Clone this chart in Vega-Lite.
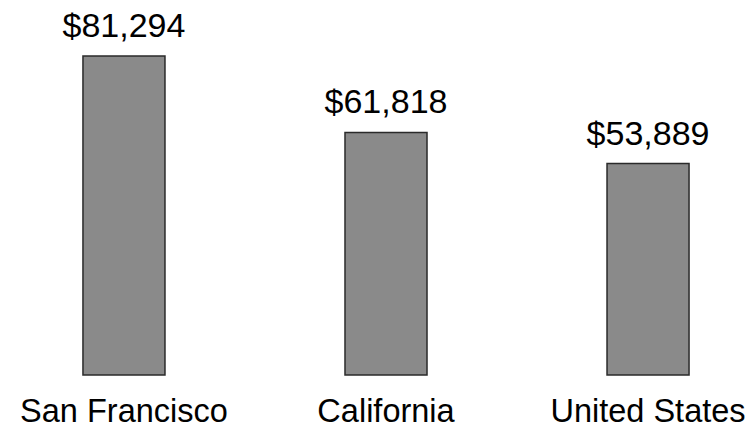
{
  "$schema": "https://vega.github.io/schema/vega-lite/v6.json",
  "width": 724,
  "height": 375,
  "autosize": "none",
  "padding": {"left": 24, "top": 0, "right": 0, "bottom": 55},
  "background": "white",
  "config": {
    "view": {"stroke": null},
    "font": "Liberation Sans"
  },
  "data": {
    "values": [
      {"place": "San Francisco", "income": 81294, "label": "$81,294"},
      {"place": "California", "income": 61818, "label": "$61,818"},
      {"place": "United States", "income": 53889, "label": "$53,889"}
    ]
  },
  "encoding": {
    "x": {
      "field": "place",
      "type": "nominal",
      "sort": null,
      "scale": {"paddingInner": 0.687, "paddingOuter": 0.225},
      "axis": {
        "title": null,
        "labelAngle": 0,
        "ticks": false,
        "domain": false,
        "labelFont": "Liberation Sans",
        "labelFontSize": 32.5,
        "labelColor": "#000000",
        "labelBaseline": "alphabetic",
        "labelPadding": 46,
        "labelOverlap": false,
        "labelLimit": 0
      }
    },
    "y": {
      "field": "income",
      "type": "quantitative",
      "scale": {"domain": [0, 95566], "nice": false},
      "axis": null
    }
  },
  "layer": [
    {
      "mark": {"type": "bar", "fill": "#8a8a8a", "stroke": "#2a2a2a", "strokeWidth": 1.5}
    },
    {
      "mark": {"type": "text", "baseline": "alphabetic", "dy": -19, "fontSize": 34, "color": "#000000", "font": "Liberation Sans"},
      "encoding": {"text": {"field": "label"}}
    }
  ]
}
